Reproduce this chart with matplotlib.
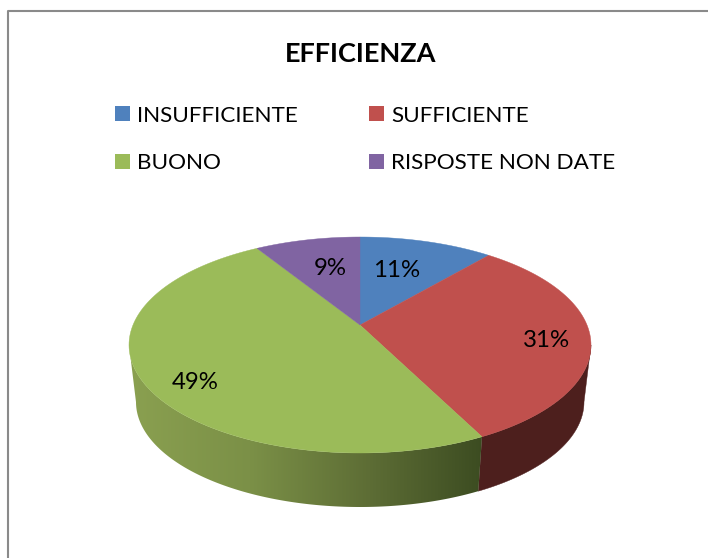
import numpy as np
import matplotlib
matplotlib.use("Agg")
import matplotlib.pyplot as plt
from matplotlib.patches import Polygon, Rectangle
from matplotlib.colors import LinearSegmentedColormap

plt.rcParams['font.family'] = ['Lato', 'DejaVu Sans']

titolo = "EFFICIENZA"
categorie = ["INSUFFICIENTE", "SUFFICIENTE", "BUONO", "RISPOSTE NON DATE"]
valori = [11.2, 31.4, 48.6, 8.8]
colori = ["#4f81bd", "#c0504d", "#9bbb59", "#8064a2"]
pos_etichette = [(397, 270.5), (547, 340.5), (195, 382.5), (330, 268.5)]

# geometria della torta in pixel
CX, CY, RX, RY = 360, 345, 231, 108
BX, BY, BRX, BRY = 360, 402, 224, 105
TILT = 20 / 108


def rim(t, cx, cy, rx, ry):
    # punto sul bordo, t in radianti da mezzogiorno in senso orario, con prospettiva
    x = np.sin(t)
    y = np.cos(t)
    den = 1 + TILT * y
    xp = x * np.sqrt(1 - TILT ** 2) / den
    yp = (y + TILT) / den
    return cx + rx * xp, cy - ry * yp


fig = plt.figure(figsize=(7.08, 5.58), dpi=100)
ax = fig.add_axes([0, 0, 1, 1])
ax.set_xlim(0, 708)
ax.set_ylim(558, 0)
ax.axis("off")

# cornice (solo in alto e a sinistra, il resto e' tagliato)
ax.plot([8, 8, 708], [558, 11, 11], color="#8a8a8a", lw=1.5)

angoli = np.cumsum([0] + valori) / sum(valori) * 2 * np.pi
fine_rosso = angoli[2]
# dove il bordo e' piu' largo: li' comincia la parete visibile
lato = np.arcsin(TILT)

# parete laterale
t_rosso = np.linspace(np.pi * 0.5 + lato, fine_rosso, 80)
xs, ys = rim(t_rosso, CX, CY, RX, RY)
xb, yb = rim(t_rosso, BX, BY, BRX, BRY)
ax.add_patch(Polygon(np.r_[np.c_[xs, ys], np.c_[xb, yb][::-1]], fc="#4d1f1d", ec="#4d1f1d", lw=0.3, zorder=2))

t_verde = np.linspace(fine_rosso, np.pi * 1.5 - lato, 160)
xs, ys = rim(t_verde, CX, CY, RX, RY)
xb, yb = rim(t_verde, BX, BY, BRX, BRY)
parete = Polygon(np.r_[np.c_[xs, ys], np.c_[xb, yb][::-1]], fc="none", ec="none", zorder=2)
ax.add_patch(parete)
cmap = LinearSegmentedColormap.from_list("parete", ["#3a4a20", "#5d6d35", "#7b9047", "#8aa050"])
img = ax.imshow(np.linspace(0, 1, 256)[None, :], extent=(490, 130, 558, 0), cmap=cmap,
                aspect="auto", zorder=2)
img.set_clip_path(parete)
ax.set_xlim(0, 708)
ax.set_ylim(558, 0)

# faccia superiore
apice = (CX, CY - RY * TILT)
for i, c in enumerate(colori):
    t = np.linspace(angoli[i], angoli[i + 1], 120)
    x, y = rim(t, CX, CY, RX, RY)
    pts = np.r_[[apice], np.c_[x, y]]
    ax.add_patch(Polygon(pts, fc=c, ec=c, lw=0.3, zorder=3))

for v, (x, y) in zip(valori, pos_etichette):
    ax.text(x, y, f"{v:.0f}%", fontsize=17.3, ha="center", va="center", color="black", zorder=4)

ax.text(361, 54, titolo, fontsize=19.5, fontweight="bold", ha="center", va="center")

# legenda: colonna per colonna
ordine = [0, 2, 1, 3]
handles = [Rectangle((0, 0), 1, 1, fc=colori[i], ec="none") for i in ordine]
ax.legend(handles, [categorie[i] for i in ordine], ncol=2, loc="upper left",
          bbox_to_anchor=(115 / 708, 1 - 105.5 / 558), frameon=False, fontsize=16.2,
          borderpad=0, borderaxespad=0, handlelength=0.66, handleheight=0.66,
          handletextpad=0.3, labelspacing=1.24, columnspacing=3.2)

fig.savefig("out.png", dpi=100)
